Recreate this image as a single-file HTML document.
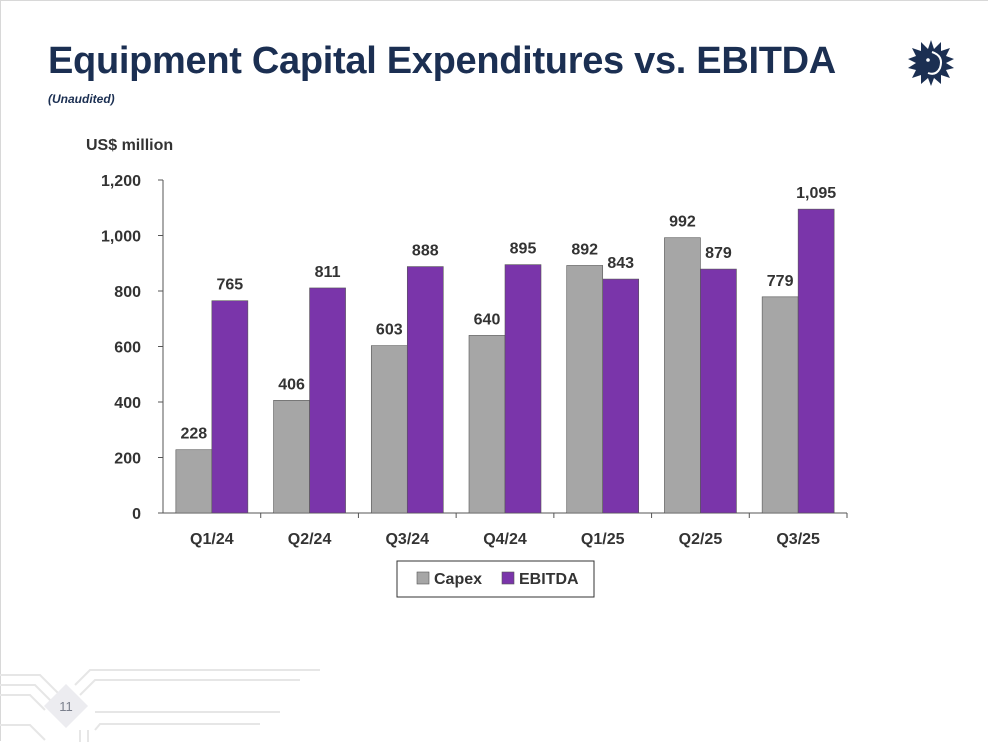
<!DOCTYPE html>
<html><head><meta charset="utf-8"><style>
body{margin:0;width:989px;height:742px;background:#fff;position:relative;overflow:hidden;font-family:"Liberation Sans",sans-serif;}
.frame{position:absolute;left:0;top:0;width:987px;height:740px;border:1px solid #d8d8d8;border-right:none;border-bottom:none;}
h1{position:absolute;left:48px;top:40px;margin:0;font-size:38px;font-weight:bold;color:#1b2f52;letter-spacing:-0.3px;}
.sub{position:absolute;left:48px;top:92px;font-size:12px;font-style:italic;font-weight:bold;color:#1b2f52;}
</style></head><body>
<div class="frame"></div>
<h1>Equipment Capital Expenditures vs. EBITDA</h1>
<div class="sub">(Unaudited)</div>
<svg style="position:absolute;left:906px;top:38px" width="50" height="50" viewBox="0 0 50 50">
<polygon fill="#1b2f52" points="25,2 28,11 35,4 35,13 44,10 40,18 48,21 40,25 48,30 40,32 44,40 35,37 35,46 28,40 25,48 22,40 15,46 15,37 6,40 10,32 2,30 10,25 2,21 10,18 6,10 15,13 15,4 22,11"/>
<path d="M26,14 Q38,18 34,30 Q30,38 22,35" fill="none" stroke="#fff" stroke-width="2"/>
<circle cx="22" cy="22" r="1.8" fill="#fff"/>
</svg>
<svg style="position:absolute;left:0;top:660px" width="320" height="82">
<g stroke="#e6e6e6" stroke-width="2" fill="none">
<path d="M0,15 H40 L65,40"/><path d="M0,25 H35 L55,45"/><path d="M0,35 H30 L45,50"/>
<path d="M320,10 H90 L75,25"/><path d="M300,20 H95 L80,35"/><path d="M280,52 H95"/><path d="M260,64 H100 L95,70"/>
<path d="M0,65 H30 L45,80"/><path d="M80,70 V82"/><path d="M88,70 V82"/>
</g>
<polygon points="66,24 88,46 66,68 44,46" fill="#ececf0"/>
<text x="66" y="51" text-anchor="middle" font-size="13" fill="#7a7f8c" font-family="Liberation Sans">11</text>
</svg>
<svg id="chart" style="position:absolute;left:0;top:0" width="989" height="742"></svg>
<script>
const categories=["Q1/24","Q2/24","Q3/24","Q4/24","Q1/25","Q2/25","Q3/25"];
const capex=[228,406,603,640,892,992,779];
const ebitda=[765,811,888,895,843,879,1095];
const yTicks=[0,200,400,600,800,1000,1200];
const yTickLabels=["0","200","400","600","800","1,000","1,200"];
const ebitdaLabels=["765","811","888","895","843","879","1,095"];
const svg=document.getElementById('chart');const NS="http://www.w3.org/2000/svg";
const x0=163,x1=847,y0=513,y1=180,maxV=1200;
const y=v=>y0-(v/maxV)*(y0-y1);
const bw=(x1-x0)/categories.length;
const xc=i=>x0+bw*(i+0.5);
function el(t,a,txt){const e=document.createElementNS(NS,t);for(const k in a)e.setAttribute(k,a[k]);if(txt!==undefined)e.textContent=txt;svg.appendChild(e);return e;}
const F='"Liberation Sans",sans-serif';
let e=el('text',{x:86,y:150,'font-size':16,'font-weight':'bold',fill:'#333','font-family':F},'US$ million');


e=el('line',{x1:x0,y1:y1,x2:x0,y2:y0,stroke:'#555'});


yTicks.forEach((t,i)=>{
 const l=el('line',{x1:x0-5,x2:x0,y1:y(t),y2:y(t),stroke:'#555'});
 
 
 const tx=el('text',{x:x0-22,y:y(t)+6,'text-anchor':'end','font-size':16,'font-weight':'bold',fill:'#333','font-family':F},yTickLabels[i]);
 
 
});
e=el('line',{x1:x0,y1:y0,x2:x1,y2:y0,stroke:'#555'});


const bwid=36;
categories.forEach((c,i)=>{
 const tk=el('line',{x1:x0+bw*(i+1),x2:x0+bw*(i+1),y1:y0,y2:y0+5,stroke:'#555'});
 
 
 const cx=xc(i);
 const b1=el('rect',{x:cx-bwid,y:y(capex[i]),width:bwid,height:y0-y(capex[i]),fill:'#a6a6a6',stroke:'#555','stroke-width':0.6});
 
 
 const b2=el('rect',{x:cx,y:y(ebitda[i]),width:bwid,height:y0-y(ebitda[i]),fill:'#7a35aa',stroke:'#555','stroke-width':0.6});
 
 
 const l1=el('text',{x:cx-bwid/2,y:y(capex[i])-11,'text-anchor':'middle','font-size':16,'font-weight':'bold',fill:'#333','font-family':F},String(capex[i]));
 
 
 const l2=el('text',{x:cx+bwid/2,y:y(ebitda[i])-11,'text-anchor':'middle','font-size':16,'font-weight':'bold',fill:'#333','font-family':F},ebitdaLabels[i]);
 
 
 const cl=el('text',{x:cx,y:y0+31,'text-anchor':'middle','font-size':16,'font-weight':'bold',fill:'#333','font-family':F},c);
 
 
});
e=el('rect',{x:397,y:561,width:197,height:36,fill:'#fff',stroke:'#333','stroke-width':1});


e=el('rect',{x:417,y:572,width:12,height:12,fill:'#a6a6a6',stroke:'#555','stroke-width':0.6});


e=el('text',{x:434,y:584,'font-size':16,'font-weight':'bold',fill:'#333','font-family':F},'Capex');


e=el('rect',{x:502,y:572,width:12,height:12,fill:'#7a35aa',stroke:'#555','stroke-width':0.6});


e=el('text',{x:519,y:584,'font-size':16,'font-weight':'bold',fill:'#333','font-family':F},'EBITDA');


</script>
</body></html>
